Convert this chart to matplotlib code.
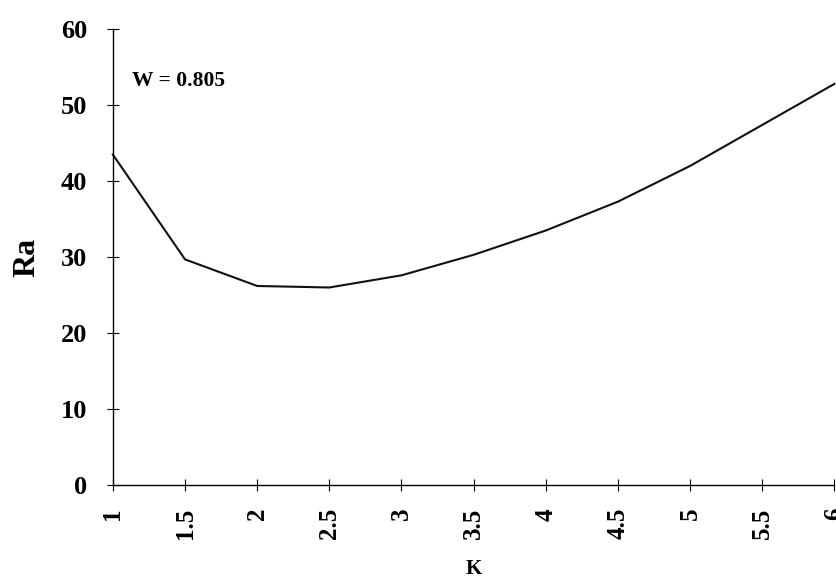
import matplotlib
matplotlib.use("Agg")
import matplotlib.pyplot as plt

plt.rcParams["font.family"] = ["Liberation Serif", "DejaVu Serif"]

k = [1, 1.5, 2, 2.5, 3, 3.5, 4, 4.5, 5, 5.5, 6]
ra = [43.5, 29.7, 26.2, 26.0, 27.6, 30.3, 33.5, 37.3, 42.0, 47.4, 52.8]
xticks = [1, 1.5, 2, 2.5, 3, 3.5, 4, 4.5, 5, 5.5, 6]
xtick_labels = ["1", "1.5", "2", "2.5", "3", "3.5", "4", "4.5", "5", "5.5", "6"]
yticks = [0, 10, 20, 30, 40, 50, 60]

fig = plt.figure(figsize=(8.36, 5.85), dpi=100)
ax = fig.add_axes([0.135, 0.171, 0.863, 0.779])
ax.plot(k, ra, color="#111111", lw=1.5, clip_on=False)

ax.set_xlim(1, 6)
ax.set_ylim(0, 60)
for s in ("top", "right"):
    ax.spines[s].set_visible(False)
for s in ("left", "bottom"):
    ax.spines[s].set_linewidth(1.0)

ax.set_xticks(xticks)
ax.set_xticklabels(xtick_labels, rotation=90, fontweight="bold", fontsize=18)
ax.set_yticks(yticks)
ax.set_yticklabels([str(v) for v in yticks], fontweight="bold", fontsize=19)
ax.tick_params(axis="both", direction="inout", length=9, width=0.8)
ax.tick_params(axis="y", pad=14)
ax.tick_params(axis="x", pad=12)

ax.set_ylabel("Ra", fontweight="bold", fontsize=23, labelpad=14)
ax.set_xlabel("K", fontweight="bold", fontsize=15, labelpad=14)
ax.text(1.13, 53.2, "W = 0.805", fontweight="bold", fontsize=15.5, va="center")

fig.savefig("out.png", dpi=100)
